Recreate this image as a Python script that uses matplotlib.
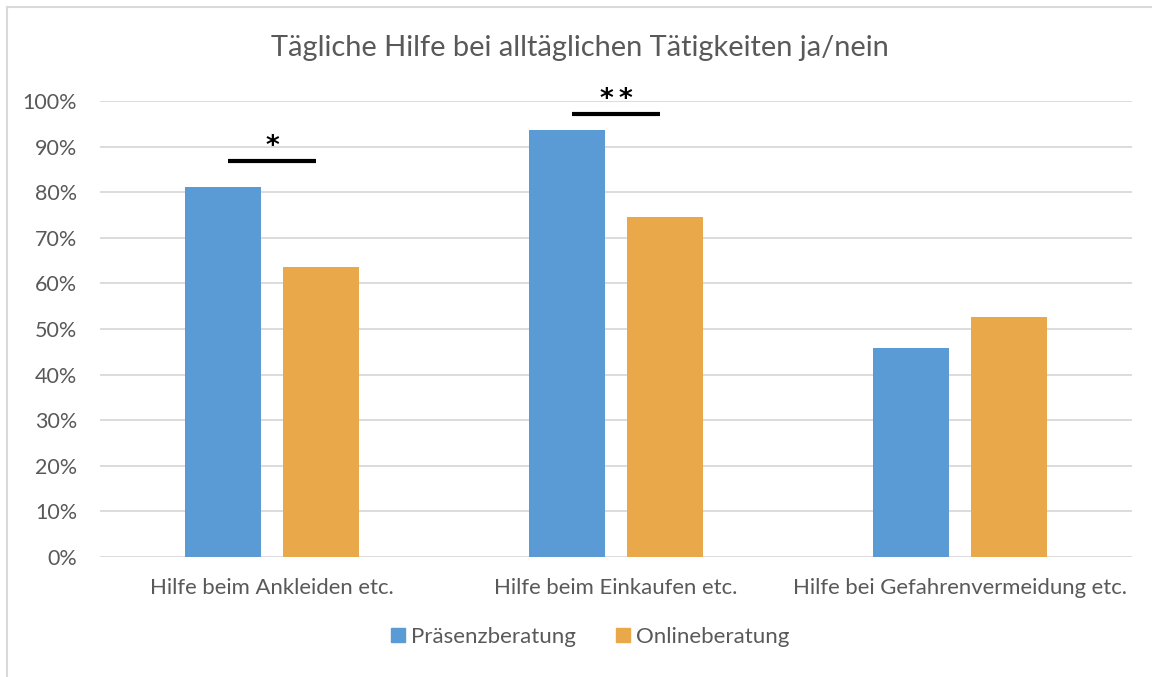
import matplotlib.pyplot as plt
import numpy as np
from matplotlib.lines import Line2D

plt.rcParams['font.family'] = ['Lato', 'DejaVu Sans']

categories = ["Hilfe beim Ankleiden etc.", "Hilfe beim Einkaufen etc.", "Hilfe bei Gefahrenvermeidung etc."]
praesenz = [81.1, 93.6, 45.8]
online = [63.6, 74.6, 52.6]
series_names = ["Präsenzberatung", "Onlineberatung"]
sig_labels = ["*", "*\u2009*", ""]
sig_levels = [86.8, 97.1, None]

blue = "#5B9BD5"
orange = "#E9A84A"
grey = "#595959"

fig = plt.figure(figsize=(11.52, 6.77), dpi=100)
ax = fig.add_axes([100 / 1152, 120 / 677, 1032 / 1152, 456 / 677])

x = np.arange(len(categories))
w = 0.22
ax.bar(x - 0.142, praesenz, w, color=blue, label=series_names[0], zorder=3)
ax.bar(x + 0.142, online, w, color=orange, label=series_names[1], zorder=3)

# significance bars
for xi, lvl, lab in zip(x, sig_levels, sig_labels):
    if lvl is None:
        continue
    ax.plot([xi - 0.128, xi + 0.128], [lvl, lvl], color="black", lw=3, solid_capstyle="butt", zorder=4)
    ax.text(xi, lvl + 1.6, lab, ha="center", va="baseline", fontsize=19, color="black",
            family="DejaVu Sans", fontweight="bold", zorder=4)

ax.set_xlim(-0.5, 2.5)
ax.set_ylim(0, 100)
ax.set_yticks(np.arange(0, 101, 10))
ax.set_yticklabels([f"{v}%" for v in range(0, 101, 10)])
ax.set_xticks(x)
ax.set_xticklabels(categories)
ax.grid(axis="y", color="#D9D9D9", lw=1.3, zorder=0)
for s in ax.spines.values():
    s.set_visible(False)
ax.tick_params(axis="y", length=0, labelsize=15.5, colors=grey, pad=16.5)
ax.tick_params(axis="x", length=0, labelsize=15.9, colors=grey, pad=15)

fig.text(580 / 1152, 1 - 48 / 677, "Tägliche Hilfe bei alltäglichen Tätigkeiten ja/nein",
         ha="center", va="center", fontsize=20.9, color=grey)

handles = [Line2D([], [], marker="s", ls="", color=blue, markersize=10),
           Line2D([], [], marker="s", ls="", color=orange, markersize=10)]
fig.legend(handles, series_names, loc="center", bbox_to_anchor=(588 / 1152, 1 - 637 / 677),
           ncol=2, frameon=False, fontsize=16, labelcolor=grey, handletextpad=0.1,
           columnspacing=1.6, handlelength=1.0)

# chart border (top and left edges visible)
fig.add_artist(Line2D([7 / 1152, 1], [1 - 7 / 677, 1 - 7 / 677], transform=fig.transFigure, color="#D9D9D9", lw=1.5))
fig.add_artist(Line2D([7 / 1152, 7 / 1152], [0, 1 - 7 / 677], transform=fig.transFigure, color="#D9D9D9", lw=1.5))

fig.savefig("out.png", dpi=100)
